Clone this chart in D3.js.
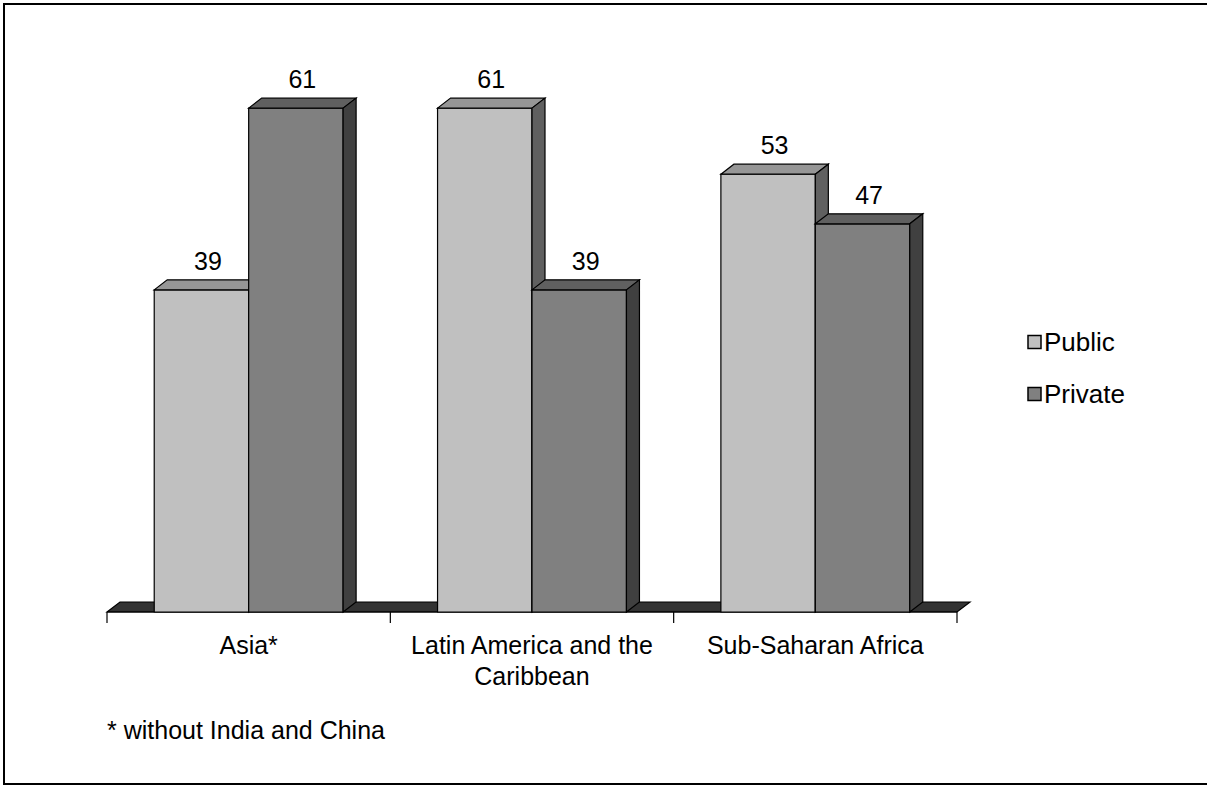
<!DOCTYPE html>
<html>
<head>
<meta charset="utf-8">
<script src="https://cdn.jsdelivr.net/npm/d3@7"></script>
<style>
  html, body { margin: 0; padding: 0; background: #fff; }
  svg { display: block; font-family: "Liberation Sans", Arial, sans-serif; }
</style>
</head>
<body>
<svg id="chart" width="1207" height="787"></svg>
<script>
// Share of public and private spending by region (%)
const categories = ["Asia*", "Latin America and the Caribbean", "Sub-Saharan Africa"];
const categoryLines = [["Asia*"], ["Latin America and the", "Caribbean"], ["Sub-Saharan Africa"]];
const seriesNames = ["Public", "Private"];
const publicValues = [39, 61, 53];
const privateValues = [61, 39, 47];
const footnote = "* without India and China";

const values = [publicValues, privateValues];
const faceColors = {
  Public:  { front: "#c0c0c0", top: "#969696", side: "#606060" },
  Private: { front: "#808080", top: "#606060", side: "#404040" }
};

const svg = d3.select("#chart");
const W = 1207, H = 787;
const FS = 25;

// outer frame
svg.append("rect")
  .attr("x", 4).attr("y", 4).attr("width", W + 4).attr("height", H - 7)
  .attr("fill", "none").attr("stroke", "#000").attr("stroke-width", 2);

const plot = { left: 107, right: 957, bottom: 612 };
const depth = { dx: 13, dy: -10 };

const x0 = d3.scaleBand().domain(categories).range([plot.left, plot.right]).paddingInner(0).paddingOuter(0);
const x1 = d3.scaleBand().domain(seriesNames).range([0, x0.bandwidth()]).paddingInner(0).paddingOuter(0.5);
const y = d3.scaleLinear().domain([0, 70]).range([plot.bottom, plot.bottom - 70 * 8.26]);

const g = svg.append("g");

// floor slab
const floorPts = [
  [plot.left, plot.bottom],
  [plot.left + depth.dx, plot.bottom + depth.dy],
  [plot.right + depth.dx, plot.bottom + depth.dy],
  [plot.right, plot.bottom]
];
g.append("path")
  .attr("d", d3.line()(floorPts) + "Z")
  .attr("fill", "#333333").attr("stroke", "#000").attr("stroke-width", 1.2);

// category axis: baseline and ticks
const axisG = g.append("g");
axisG.append("line")
  .attr("x1", plot.left).attr("x2", plot.right)
  .attr("y1", plot.bottom).attr("y2", plot.bottom)
  .attr("stroke", "#000").attr("stroke-width", 1.2);
const tickXs = categories.map(c => x0(c)).concat([plot.right]);
axisG.selectAll("line.tick").data(tickXs).enter().append("line")
  .attr("class", "tick")
  .attr("x1", d => d).attr("x2", d => d)
  .attr("y1", plot.bottom).attr("y2", plot.bottom + 11)
  .attr("stroke", "#000").attr("stroke-width", 1.2);

// bars as 3D boxes (front, top, side)
const bars = [];
categories.forEach((c, ci) => {
  seriesNames.forEach((s, si) => {
    bars.push({ cat: c, series: s, value: values[si][ci] });
  });
});

const line = d3.line();
bars.forEach(b => {
  const xl = x0(b.cat) + x1(b.series);
  const xr = xl + x1.bandwidth();
  const yt = y(b.value);
  const yb = y(0);
  const col = faceColors[b.series];
  const bg = g.append("g");
  bg.append("path")
    .attr("d", line([[xl, yt], [xr, yt], [xr, yb], [xl, yb]]) + "Z")
    .attr("fill", col.front).attr("stroke", "#000").attr("stroke-width", 1.2);
  bg.append("path")
    .attr("d", line([[xl, yt], [xl + depth.dx, yt + depth.dy], [xr + depth.dx, yt + depth.dy], [xr, yt]]) + "Z")
    .attr("fill", col.top).attr("stroke", "#000").attr("stroke-width", 1.2);
  bg.append("path")
    .attr("d", line([[xr, yt], [xr + depth.dx, yt + depth.dy], [xr + depth.dx, yb + depth.dy], [xr, yb]]) + "Z")
    .attr("fill", col.side).attr("stroke", "#000").attr("stroke-width", 1.2);
  // value label
  bg.append("text")
    .attr("x", (xl + xr) / 2 + depth.dx / 2)
    .attr("y", yt + depth.dy - 10)
    .attr("text-anchor", "middle")
    .attr("font-size", FS)
    .attr("fill", "#000")
    .text(b.value);
});

// category labels
categories.forEach((c, ci) => {
  const cx = x0(c) + x0.bandwidth() / 2;
  const t = svg.append("text")
    .attr("x", cx).attr("y", 654)
    .attr("text-anchor", "middle")
    .attr("font-size", FS).attr("fill", "#000");
  categoryLines[ci].forEach((ln, li) => {
    t.append("tspan").attr("x", cx).attr("dy", li === 0 ? 0 : 31).text(ln);
  });
});

// footnote
svg.append("text")
  .attr("x", 107).attr("y", 739)
  .attr("font-size", FS).attr("fill", "#000")
  .text(footnote);

// legend
const legend = svg.append("g");
seriesNames.forEach((s, i) => {
  const ly = 342 + i * 52;
  legend.append("rect")
    .attr("x", 1028).attr("y", ly - 6.5).attr("width", 13).attr("height", 13)
    .attr("fill", faceColors[s].front).attr("stroke", "#000").attr("stroke-width", 1.5);
  legend.append("text")
    .attr("x", 1044).attr("y", ly + 9)
    .attr("font-size", 26).attr("fill", "#000")
    .text(s);
});
</script>
</body>
</html>
